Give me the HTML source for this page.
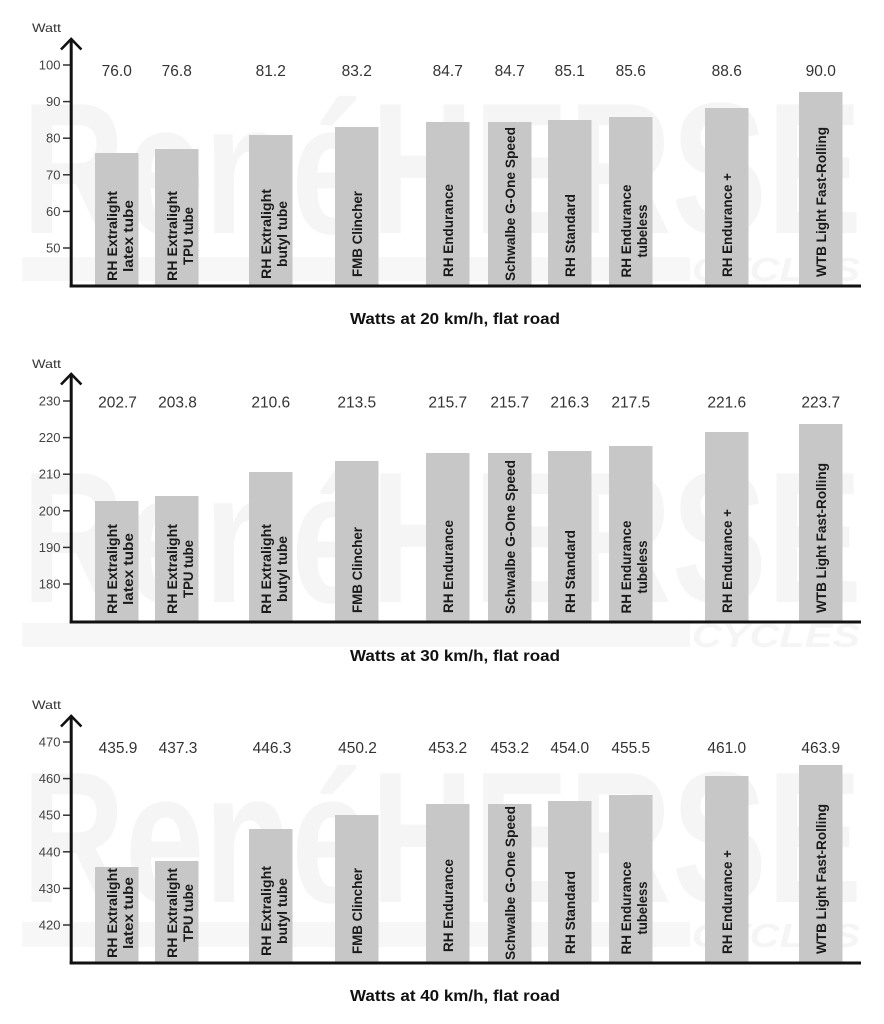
<!DOCTYPE html>
<html><head><meta charset="utf-8"><style>
html,body{margin:0;padding:0;background:#fff;}
svg{display:block;}
.wm{font-family:"Liberation Sans",sans-serif;font-weight:bold;fill:#f5f5f5;}
.tk{font-family:"Liberation Sans",sans-serif;font-size:13px;fill:#444;text-anchor:end;}
.val{font-family:"Liberation Sans",sans-serif;font-size:15.5px;fill:#333;text-anchor:middle;}
.lb{font-family:"Liberation Sans",sans-serif;font-size:13.5px;font-weight:bold;fill:#1a1a1a;}
.ttl{font-family:"Liberation Sans",sans-serif;font-size:15.5px;font-weight:bold;fill:#111;text-anchor:middle;}
.wt{font-family:"Liberation Sans",sans-serif;font-size:12px;fill:#333;}
.bar{fill:#c7c7c7;}
</style></head><body>
<svg width="884" height="1024" viewBox="0 0 884 1024" xmlns="http://www.w3.org/2000/svg">
<!-- watermarks -->
<text class="wm" x="22" y="233" font-size="187" textLength="840" lengthAdjust="spacingAndGlyphs">RenéHERSE</text>
<rect x="22" y="257" width="668" height="24" fill="#f7f7f7"/>
<text class="wm" x="692" y="281" font-size="33" font-style="italic" textLength="168" lengthAdjust="spacingAndGlyphs">CYCLES</text>

<text class="wm" x="22" y="602" font-size="187" textLength="840" lengthAdjust="spacingAndGlyphs">RenéHERSE</text>
<rect x="22" y="623" width="668" height="24" fill="#f7f7f7"/>
<text class="wm" x="692" y="647" font-size="33" font-style="italic" textLength="168" lengthAdjust="spacingAndGlyphs">CYCLES</text>

<text class="wm" x="22" y="902" font-size="187" textLength="840" lengthAdjust="spacingAndGlyphs">RenéHERSE</text>
<rect x="22" y="922" width="668" height="25" fill="#f7f7f7"/>
<text class="wm" x="692" y="947" font-size="33" font-style="italic" textLength="168" lengthAdjust="spacingAndGlyphs">CYCLES</text>

<!-- PANEL 1 -->
<g transform="translate(0,0)">
<text class="wt" x="32" y="32" textLength="29" lengthAdjust="spacingAndGlyphs">Watt</text>
<rect class="bar" x="95" y="153" width="43.5" height="133"/>
<rect class="bar" x="155" y="149" width="43.5" height="137"/>
<rect class="bar" x="249" y="135" width="43.5" height="151"/>
<rect class="bar" x="335" y="127" width="43.5" height="159"/>
<rect class="bar" x="426" y="122" width="43.5" height="164"/>
<rect class="bar" x="488" y="122" width="43.5" height="164"/>
<rect class="bar" x="548" y="120" width="43.5" height="166"/>
<rect class="bar" x="609" y="117" width="43.5" height="169"/>
<rect class="bar" x="705" y="108" width="43.5" height="178"/>
<rect class="bar" x="799" y="92" width="43.5" height="194"/>
<g stroke="#333" stroke-width="1.5">
<line x1="63" y1="65" x2="71" y2="65"/><line x1="63" y1="101.6" x2="71" y2="101.6"/><line x1="63" y1="138.2" x2="71" y2="138.2"/><line x1="63" y1="174.8" x2="71" y2="174.8"/><line x1="63" y1="211.4" x2="71" y2="211.4"/><line x1="63" y1="248" x2="71" y2="248"/>
</g>
<text class="tk" x="60.5" y="69.5">100</text><text class="tk" x="60.5" y="106.1">90</text><text class="tk" x="60.5" y="142.7">80</text><text class="tk" x="60.5" y="179.3">70</text><text class="tk" x="60.5" y="215.9">60</text><text class="tk" x="60.5" y="252.5">50</text>
<line x1="71.2" y1="39" x2="71.2" y2="287.5" stroke="#111" stroke-width="3"/>
<polyline points="61,49.5 71.2,39 81.4,49.5" fill="none" stroke="#111" stroke-width="2.6"/>
<line x1="69.7" y1="286" x2="861" y2="286" stroke="#111" stroke-width="3"/>
<text class="val" x="116.75" y="76">76.0</text><text class="val" x="176.75" y="76">76.8</text><text class="val" x="270.75" y="76">81.2</text><text class="val" x="356.75" y="76">83.2</text><text class="val" x="447.75" y="76">84.7</text><text class="val" x="509.75" y="76">84.7</text><text class="val" x="569.75" y="76">85.1</text><text class="val" x="630.75" y="76">85.6</text><text class="val" x="726.75" y="76">88.6</text><text class="val" x="820.75" y="76">90.0</text>
<text class="lb" text-anchor="middle" x="117" y="236" transform="rotate(-90 117 236)" textLength="90" lengthAdjust="spacingAndGlyphs">RH Extralight</text>
<text class="lb" text-anchor="middle" x="133" y="236" transform="rotate(-90 133 236)" textLength="72" lengthAdjust="spacingAndGlyphs">latex tube</text>
<text class="lb" text-anchor="middle" x="177" y="236" transform="rotate(-90 177 236)" textLength="90" lengthAdjust="spacingAndGlyphs">RH Extralight</text>
<text class="lb" text-anchor="middle" x="193" y="236" transform="rotate(-90 193 236)" textLength="58" lengthAdjust="spacingAndGlyphs">TPU tube</text>
<text class="lb" text-anchor="middle" x="271" y="234" transform="rotate(-90 271 234)" textLength="90" lengthAdjust="spacingAndGlyphs">RH Extralight</text>
<text class="lb" text-anchor="middle" x="287" y="234" transform="rotate(-90 287 234)" textLength="66" lengthAdjust="spacingAndGlyphs">butyl tube</text>
<text class="lb" x="362" y="277" transform="rotate(-90 362 277)" textLength="86" lengthAdjust="spacingAndGlyphs">FMB Clincher</text>
<text class="lb" x="453" y="277" transform="rotate(-90 453 277)" textLength="93" lengthAdjust="spacingAndGlyphs">RH Endurance</text>
<text class="lb" x="515" y="281" transform="rotate(-90 515 281)" textLength="154" lengthAdjust="spacingAndGlyphs">Schwalbe G-One Speed</text>
<text class="lb" x="575" y="277" transform="rotate(-90 575 277)" textLength="83" lengthAdjust="spacingAndGlyphs">RH Standard</text>
<text class="lb" text-anchor="middle" x="631" y="231" transform="rotate(-90 631 231)" textLength="93" lengthAdjust="spacingAndGlyphs">RH Endurance</text>
<text class="lb" text-anchor="middle" x="647" y="231" transform="rotate(-90 647 231)" textLength="53" lengthAdjust="spacingAndGlyphs">tubeless</text>
<text class="lb" x="732" y="277" transform="rotate(-90 732 277)" textLength="104" lengthAdjust="spacingAndGlyphs">RH Endurance +</text>
<text class="lb" x="826" y="277" transform="rotate(-90 826 277)" textLength="150" lengthAdjust="spacingAndGlyphs">WTB Light Fast-Rolling</text>
<text class="ttl" x="455" y="324" textLength="210" lengthAdjust="spacingAndGlyphs">Watts at 20 km/h, flat road</text>
</g>

<!-- PANEL 2 -->
<g transform="translate(0,336)">
<text class="wt" x="32" y="32" textLength="29" lengthAdjust="spacingAndGlyphs">Watt</text>
<rect class="bar" x="95" y="165" width="43.5" height="121"/>
<rect class="bar" x="155" y="160" width="43.5" height="126"/>
<rect class="bar" x="249" y="136" width="43.5" height="150"/>
<rect class="bar" x="335" y="125" width="43.5" height="161"/>
<rect class="bar" x="426" y="117" width="43.5" height="169"/>
<rect class="bar" x="488" y="117" width="43.5" height="169"/>
<rect class="bar" x="548" y="115" width="43.5" height="171"/>
<rect class="bar" x="609" y="110" width="43.5" height="176"/>
<rect class="bar" x="705" y="96" width="43.5" height="190"/>
<rect class="bar" x="799" y="88" width="43.5" height="198"/>
<g stroke="#333" stroke-width="1.5">
<line x1="63" y1="65" x2="71" y2="65"/><line x1="63" y1="101.6" x2="71" y2="101.6"/><line x1="63" y1="138.2" x2="71" y2="138.2"/><line x1="63" y1="174.8" x2="71" y2="174.8"/><line x1="63" y1="211.4" x2="71" y2="211.4"/><line x1="63" y1="248" x2="71" y2="248"/>
</g>
<text class="tk" x="60.5" y="69.5">230</text><text class="tk" x="60.5" y="106.1">220</text><text class="tk" x="60.5" y="142.7">210</text><text class="tk" x="60.5" y="179.3">200</text><text class="tk" x="60.5" y="215.9">190</text><text class="tk" x="60.5" y="252.5">180</text>
<line x1="71.2" y1="38" x2="71.2" y2="287.5" stroke="#111" stroke-width="3"/>
<polyline points="61,48.5 71.2,38 81.4,48.5" fill="none" stroke="#111" stroke-width="2.6"/>
<line x1="69.7" y1="286" x2="861" y2="286" stroke="#111" stroke-width="3"/>
<text class="val" x="117.5" y="71.5">202.7</text><text class="val" x="177.5" y="71.5">203.8</text><text class="val" x="270.75" y="71.5">210.6</text><text class="val" x="356.75" y="71.5">213.5</text><text class="val" x="447.75" y="71.5">215.7</text><text class="val" x="509.75" y="71.5">215.7</text><text class="val" x="569.75" y="71.5">216.3</text><text class="val" x="630.75" y="71.5">217.5</text><text class="val" x="726.75" y="71.5">221.6</text><text class="val" x="820.75" y="71.5">223.7</text>
<text class="lb" text-anchor="middle" x="117" y="233" transform="rotate(-90 117 233)" textLength="90" lengthAdjust="spacingAndGlyphs">RH Extralight</text>
<text class="lb" text-anchor="middle" x="133" y="233" transform="rotate(-90 133 233)" textLength="72" lengthAdjust="spacingAndGlyphs">latex tube</text>
<text class="lb" text-anchor="middle" x="177" y="233" transform="rotate(-90 177 233)" textLength="90" lengthAdjust="spacingAndGlyphs">RH Extralight</text>
<text class="lb" text-anchor="middle" x="193" y="233" transform="rotate(-90 193 233)" textLength="58" lengthAdjust="spacingAndGlyphs">TPU tube</text>
<text class="lb" text-anchor="middle" x="271" y="233" transform="rotate(-90 271 233)" textLength="90" lengthAdjust="spacingAndGlyphs">RH Extralight</text>
<text class="lb" text-anchor="middle" x="287" y="233" transform="rotate(-90 287 233)" textLength="66" lengthAdjust="spacingAndGlyphs">butyl tube</text>
<text class="lb" x="362" y="277" transform="rotate(-90 362 277)" textLength="86" lengthAdjust="spacingAndGlyphs">FMB Clincher</text>
<text class="lb" x="453" y="277" transform="rotate(-90 453 277)" textLength="93" lengthAdjust="spacingAndGlyphs">RH Endurance</text>
<text class="lb" x="515" y="278" transform="rotate(-90 515 278)" textLength="154" lengthAdjust="spacingAndGlyphs">Schwalbe G-One Speed</text>
<text class="lb" x="575" y="277" transform="rotate(-90 575 277)" textLength="83" lengthAdjust="spacingAndGlyphs">RH Standard</text>
<text class="lb" text-anchor="middle" x="631" y="231" transform="rotate(-90 631 231)" textLength="93" lengthAdjust="spacingAndGlyphs">RH Endurance</text>
<text class="lb" text-anchor="middle" x="647" y="231" transform="rotate(-90 647 231)" textLength="53" lengthAdjust="spacingAndGlyphs">tubeless</text>
<text class="lb" x="732" y="277" transform="rotate(-90 732 277)" textLength="104" lengthAdjust="spacingAndGlyphs">RH Endurance +</text>
<text class="lb" x="826" y="277" transform="rotate(-90 826 277)" textLength="150" lengthAdjust="spacingAndGlyphs">WTB Light Fast-Rolling</text>
<text class="ttl" x="455" y="325" textLength="210" lengthAdjust="spacingAndGlyphs">Watts at 30 km/h, flat road</text>
</g>

<!-- PANEL 3 -->
<g transform="translate(0,677)">
<text class="wt" x="32" y="32" textLength="29" lengthAdjust="spacingAndGlyphs">Watt</text>
<rect class="bar" x="95" y="190" width="43.5" height="96"/>
<rect class="bar" x="155" y="184" width="43.5" height="102"/>
<rect class="bar" x="249" y="152" width="43.5" height="134"/>
<rect class="bar" x="335" y="138" width="43.5" height="148"/>
<rect class="bar" x="426" y="127" width="43.5" height="159"/>
<rect class="bar" x="488" y="127" width="43.5" height="159"/>
<rect class="bar" x="548" y="124" width="43.5" height="162"/>
<rect class="bar" x="609" y="118" width="43.5" height="168"/>
<rect class="bar" x="705" y="99" width="43.5" height="187"/>
<rect class="bar" x="799" y="88" width="43.5" height="198"/>
<g stroke="#333" stroke-width="1.5">
<line x1="63" y1="65" x2="71" y2="65"/><line x1="63" y1="101.6" x2="71" y2="101.6"/><line x1="63" y1="138.2" x2="71" y2="138.2"/><line x1="63" y1="174.8" x2="71" y2="174.8"/><line x1="63" y1="211.4" x2="71" y2="211.4"/><line x1="63" y1="248" x2="71" y2="248"/>
</g>
<text class="tk" x="60.5" y="69.5">470</text><text class="tk" x="60.5" y="106.1">460</text><text class="tk" x="60.5" y="142.7">450</text><text class="tk" x="60.5" y="179.3">440</text><text class="tk" x="60.5" y="215.9">430</text><text class="tk" x="60.5" y="252.5">420</text>
<line x1="71.2" y1="39" x2="71.2" y2="287.5" stroke="#111" stroke-width="3"/>
<polyline points="61,49.5 71.2,39 81.4,49.5" fill="none" stroke="#111" stroke-width="2.6"/>
<line x1="69.7" y1="286" x2="861" y2="286" stroke="#111" stroke-width="3"/>
<text class="val" x="118" y="76">435.9</text><text class="val" x="178" y="76">437.3</text><text class="val" x="272" y="76">446.3</text><text class="val" x="357.5" y="76">450.2</text><text class="val" x="447.75" y="76">453.2</text><text class="val" x="509.75" y="76">453.2</text><text class="val" x="569.75" y="76">454.0</text><text class="val" x="630.75" y="76">455.5</text><text class="val" x="726.75" y="76">461.0</text><text class="val" x="820.75" y="76">463.9</text>
<text class="lb" text-anchor="middle" x="117" y="236" transform="rotate(-90 117 236)" textLength="90" lengthAdjust="spacingAndGlyphs">RH Extralight</text>
<text class="lb" text-anchor="middle" x="133" y="236" transform="rotate(-90 133 236)" textLength="72" lengthAdjust="spacingAndGlyphs">latex tube</text>
<text class="lb" text-anchor="middle" x="177" y="236" transform="rotate(-90 177 236)" textLength="90" lengthAdjust="spacingAndGlyphs">RH Extralight</text>
<text class="lb" text-anchor="middle" x="193" y="236" transform="rotate(-90 193 236)" textLength="58" lengthAdjust="spacingAndGlyphs">TPU tube</text>
<text class="lb" text-anchor="middle" x="271" y="234" transform="rotate(-90 271 234)" textLength="90" lengthAdjust="spacingAndGlyphs">RH Extralight</text>
<text class="lb" text-anchor="middle" x="287" y="234" transform="rotate(-90 287 234)" textLength="66" lengthAdjust="spacingAndGlyphs">butyl tube</text>
<text class="lb" x="362" y="277" transform="rotate(-90 362 277)" textLength="86" lengthAdjust="spacingAndGlyphs">FMB Clincher</text>
<text class="lb" x="453" y="275" transform="rotate(-90 453 275)" textLength="93" lengthAdjust="spacingAndGlyphs">RH Endurance</text>
<text class="lb" x="515" y="283" transform="rotate(-90 515 283)" textLength="154" lengthAdjust="spacingAndGlyphs">Schwalbe G-One Speed</text>
<text class="lb" x="575" y="277" transform="rotate(-90 575 277)" textLength="83" lengthAdjust="spacingAndGlyphs">RH Standard</text>
<text class="lb" text-anchor="middle" x="631" y="231" transform="rotate(-90 631 231)" textLength="93" lengthAdjust="spacingAndGlyphs">RH Endurance</text>
<text class="lb" text-anchor="middle" x="647" y="231" transform="rotate(-90 647 231)" textLength="53" lengthAdjust="spacingAndGlyphs">tubeless</text>
<text class="lb" x="732" y="277" transform="rotate(-90 732 277)" textLength="104" lengthAdjust="spacingAndGlyphs">RH Endurance +</text>
<text class="lb" x="826" y="277" transform="rotate(-90 826 277)" textLength="150" lengthAdjust="spacingAndGlyphs">WTB Light Fast-Rolling</text>
<text class="ttl" x="455" y="324" textLength="210" lengthAdjust="spacingAndGlyphs">Watts at 40 km/h, flat road</text>
</g>
</svg>
</body></html>
